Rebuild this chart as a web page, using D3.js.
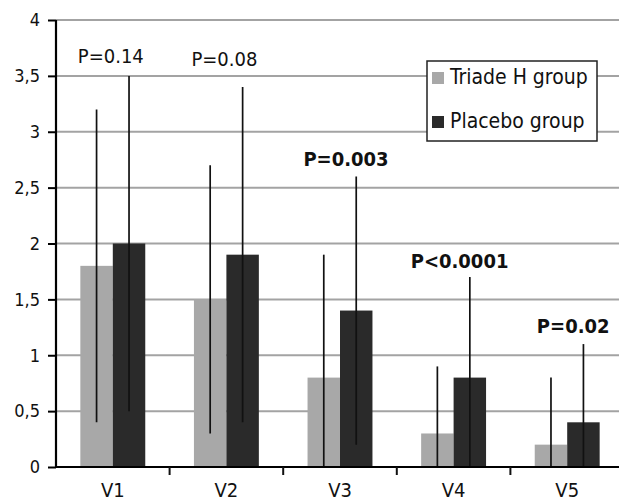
<!DOCTYPE html>
<html>
  <head>
    <style>
      body { margin: 0; background: #fff; }
      text { font-family: "DejaVu Sans Condensed", "DejaVu Sans", sans-serif; }
    </style>
  </head>
  <body>
    <div id="my_dataviz"></div>
  </body>
</html>

<script src="https://d3js.org/d3.v7.min.js"></script>

<script>

    // data
    var visits = ["V1", "V2", "V3", "V4", "V5"];
    var groups = ["Triade H group", "Placebo group"];
    var triadeMean = [1.8, 1.5, 0.8, 0.3, 0.2];
    var placeboMean = [2.0, 1.9, 1.4, 0.8, 0.4];
    var triadeLow = [0.4, 0.3, 0, 0, 0];
    var triadeHigh = [3.2, 2.7, 1.9, 0.9, 0.8];
    var placeboLow = [0.5, 0.4, 0.2, 0, 0];
    var placeboHigh = [3.5, 3.4, 2.6, 1.7, 1.1];
    var pLabels = ["P=0.14", "P=0.08", "P=0.003", "P<0.0001", "P=0.02"];
    var pBold = [false, false, true, true, true];
    var pAt = [3.66, 3.64, 2.74, 1.83, 1.25];
    var yTicks = [0, 0.5, 1, 1.5, 2, 2.5, 3, 3.5, 4];

    var colors = {"Triade H group": "#a8a8a8", "Placebo group": "#2a2a2a"};

    var margin = {top: 20, right: -5, bottom: 37, left: 56},
        width = 619 - margin.left - margin.right,
        height = 504 - margin.top - margin.bottom;

    var svg = d3.select("#my_dataviz")
      .append("svg")
        .attr("width", 619)
        .attr("height", 504)
      .append("g")
        .attr("transform", "translate(" + margin.left + "," + margin.top + ")");

    var rows = visits.map(function(v, i) {
      return {
        visit: v,
        bars: [
          {group: groups[0], value: triadeMean[i], low: triadeLow[i], high: triadeHigh[i]},
          {group: groups[1], value: placeboMean[i], low: placeboLow[i], high: placeboHigh[i]}
        ],
        p: pLabels[i], bold: pBold[i], pY: pAt[i]
      };
    });

    var y = d3.scaleLinear().domain([0, 4]).range([height, 0]);
    var x = d3.scaleBand().domain(visits).range([0, width]).paddingInner(0).paddingOuter(0);
    var xSub = d3.scaleBand().domain(groups).range([0, x.bandwidth()]).paddingInner(0).paddingOuter(0.75);

    // gridlines
    svg.append("g")
      .selectAll("line")
      .data(yTicks.slice(1))
      .enter()
      .append("line")
        .attr("x1", 0)
        .attr("x2", width)
        .attr("y1", function(d) { return y(d); })
        .attr("y2", function(d) { return y(d); })
        .attr("stroke", "#a3a3a3")
        .attr("stroke-width", 2);

    // Bars
    var grp = svg.selectAll(".visit")
      .data(rows)
      .enter()
      .append("g")
        .attr("transform", function(d) { return "translate(" + x(d.visit) + ",0)"; });

    grp.selectAll("rect")
      .data(function(d) { return d.bars; })
      .enter()
      .append("rect")
        .attr("x", function(d) { return xSub(d.group); })
        .attr("y", function(d) { return y(d.value); })
        .attr("width", xSub.bandwidth())
        .attr("height", function(d) { return height - y(d.value); })
        .attr("fill", function(d) { return colors[d.group]; });

    // error bars (range lines)
    grp.selectAll(".err")
      .data(function(d) { return d.bars; })
      .enter()
      .append("line")
        .attr("x1", function(d) { return xSub(d.group) + xSub.bandwidth() / 2; })
        .attr("x2", function(d) { return xSub(d.group) + xSub.bandwidth() / 2; })
        .attr("y1", function(d) { return y(d.low); })
        .attr("y2", function(d) { return y(d.high); })
        .attr("stroke", "#111")
        .attr("stroke-width", 1.7);

    // p values
    grp.append("text")
      .attr("x", function(d) { return x.bandwidth() / 2 + (d.bold ? 6 : -2); })
      .attr("y", function(d) { return y(d.pY); })
      .attr("text-anchor", "middle")
      .attr("dominant-baseline", "middle")
      .style("font-size", "20px")
      .style("font-weight", function(d) { return d.bold ? "bold" : "normal"; })
      .attr("fill", "#111")
      .text(function(d) { return d.p; });

    // Y axis
    var yAxis = svg.append("g")
      .call(d3.axisLeft(y).tickValues(yTicks).tickSize(8).tickPadding(8)
        .tickFormat(function(d) { return String(d).replace(".", ","); }));
    yAxis.selectAll("text").style("font-size", "18px").attr("fill", "#111");
    yAxis.selectAll("line").attr("stroke-width", 2);
    yAxis.select(".domain").attr("stroke-width", 2.2).attr("d", "M0," + height + "V0");

    // X axis
    var xAxis = svg.append("g")
      .attr("transform", "translate(0," + height + ")")
      .call(d3.axisBottom(x).tickSize(0).tickPadding(16));
    xAxis.selectAll("text").style("font-size", "20px").attr("fill", "#111");
    xAxis.select(".domain").attr("stroke-width", 2.2).attr("d", "M0,0H" + width);
    xAxis.selectAll(".sep")
      .data(visits.slice(1))
      .enter()
      .append("line")
        .attr("x1", function(d) { return x(d); })
        .attr("x2", function(d) { return x(d); })
        .attr("y1", 0)
        .attr("y2", 8)
        .attr("stroke", "#111")
        .attr("stroke-width", 2);

    // legend
    var legend = svg.append("g")
      .attr("transform", "translate(" + (427 - margin.left) + "," + (61 - margin.top) + ")");
    legend.append("rect")
      .attr("width", 170)
      .attr("height", 80)
      .attr("fill", "#fff")
      .attr("stroke", "#222")
      .attr("stroke-width", 1.5);
    legend.selectAll(".key")
      .data(groups)
      .enter()
      .append("rect")
        .attr("x", 5)
        .attr("y", function(d, i) { return 11 + i * 44; })
        .attr("width", 12)
        .attr("height", 12)
        .attr("fill", function(d) { return colors[d]; });
    legend.selectAll(".lab")
      .data(groups)
      .enter()
      .append("text")
        .attr("x", 23)
        .attr("y", function(d, i) { return 17 + i * 44; })
        .attr("dominant-baseline", "middle")
        .style("font-size", "21px")
        .attr("fill", "#111")
        .text(function(d) { return d; });

</script>
